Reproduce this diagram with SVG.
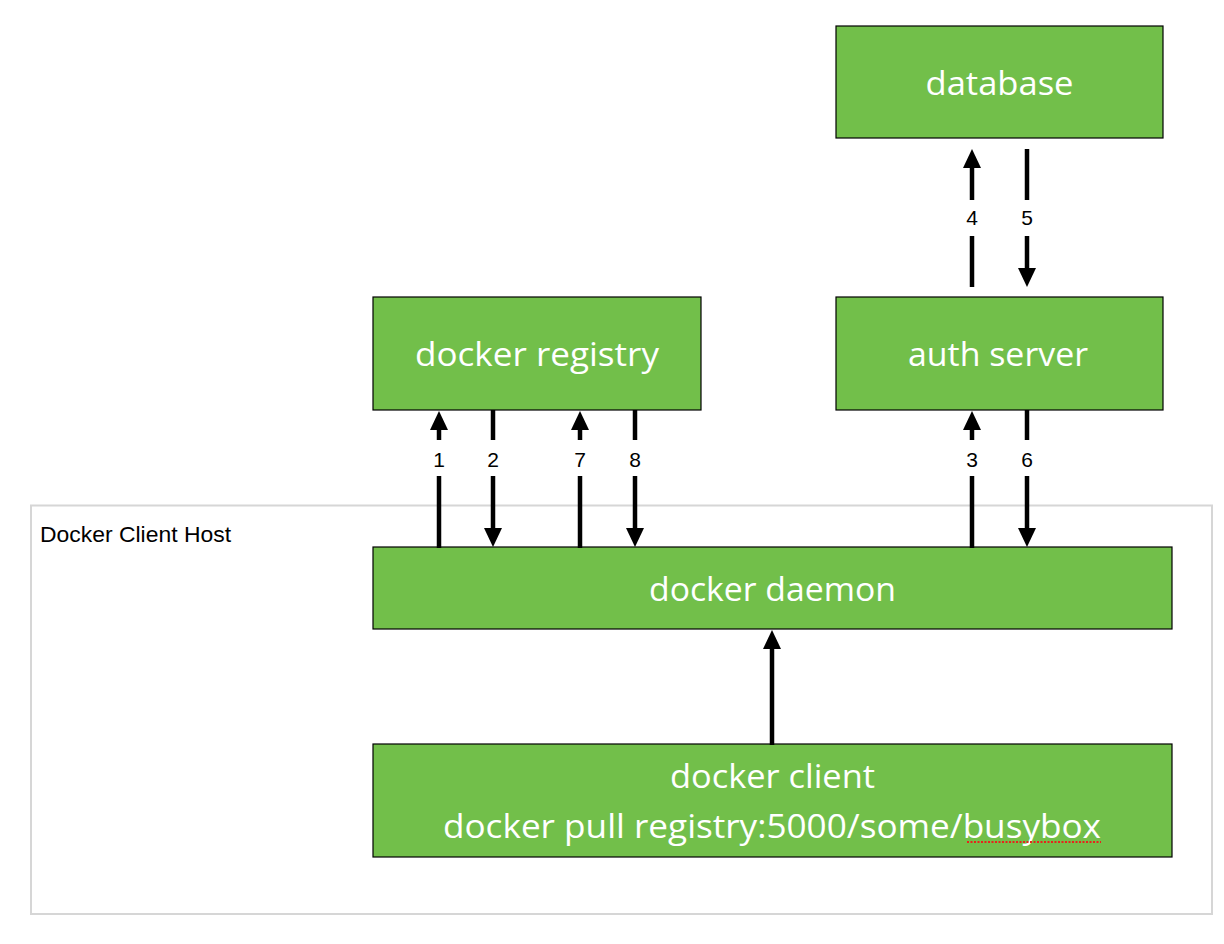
<svg xmlns="http://www.w3.org/2000/svg" width="1224" height="944" viewBox="0 0 1224 944">
<style>
.box{fill:#72bf4a;stroke:#000;stroke-width:1.2}
.lbl{font-family:"Open Sans","Liberation Sans",sans-serif;font-size:33px;fill:#fff;text-anchor:middle}
.num{font-family:"Liberation Sans",Arial,sans-serif;font-size:21px;fill:#000;text-anchor:middle}
.ln{stroke:#000;stroke-width:4.5;fill:none}
.hd{fill:#000}
</style>
<rect width="1224" height="944" fill="#fff"/>
<g id="host">
<rect x="31" y="505.5" width="1181" height="408.5" fill="none" stroke="#d6d6d6" stroke-width="2"/>
<text x="40" y="542" textLength="191" lengthAdjust="spacingAndGlyphs" style="font-family:'Liberation Sans',Arial,sans-serif;font-size:22px;fill:#000">Docker Client Host</text>
</g>
<g id="database"><rect class="box" x="836" y="26" width="327" height="112"/><text class="lbl" x="999.5" y="95" textLength="148" lengthAdjust="spacingAndGlyphs">database</text></g>
<g id="registry"><rect class="box" x="373" y="297" width="328" height="113"/><text class="lbl" x="537" y="366" textLength="244" lengthAdjust="spacingAndGlyphs">docker registry</text></g>
<g id="auth"><rect class="box" x="836" y="297" width="327" height="113"/><text class="lbl" x="998" y="366" textLength="180" lengthAdjust="spacingAndGlyphs">auth server</text></g>
<g id="daemon"><rect class="box" x="373" y="547" width="799" height="82"/><text class="lbl" x="772.5" y="601" textLength="247" lengthAdjust="spacingAndGlyphs">docker daemon</text></g>
<g id="client"><rect class="box" x="373" y="744" width="799" height="113"/><text class="lbl" x="772.5" y="788" textLength="205" lengthAdjust="spacingAndGlyphs">docker client</text><text class="lbl" x="772" y="838" textLength="658" lengthAdjust="spacingAndGlyphs">docker pull registry:5000/some/busybox</text>
<line x1="967" y1="842" x2="1101" y2="842" stroke="#e8231b" stroke-width="2" stroke-dasharray="2,1.5"/></g>
<g id="connectors">
<line class="ln" x1="439" y1="428" x2="439" y2="440"/><line class="ln" x1="439" y1="476" x2="439" y2="548"/><path class="hd" d="M439 411 L448 430 L430 430 Z"/>
<text class="num" x="439" y="467">1</text>
<line class="ln" x1="493" y1="410" x2="493" y2="440"/><line class="ln" x1="493" y1="476" x2="493" y2="530"/><path class="hd" d="M493 547 L502 528 L484 528 Z"/>
<text class="num" x="493" y="467">2</text>
<line class="ln" x1="580" y1="428" x2="580" y2="440"/><line class="ln" x1="580" y1="476" x2="580" y2="548"/><path class="hd" d="M580 411 L589 430 L571 430 Z"/>
<text class="num" x="580" y="467">7</text>
<line class="ln" x1="635" y1="410" x2="635" y2="440"/><line class="ln" x1="635" y1="476" x2="635" y2="530"/><path class="hd" d="M635 547 L644 528 L626 528 Z"/>
<text class="num" x="635" y="467">8</text>
<line class="ln" x1="972" y1="428" x2="972" y2="440"/><line class="ln" x1="972" y1="476" x2="972" y2="548"/><path class="hd" d="M972 411 L981 430 L963 430 Z"/>
<text class="num" x="972" y="467">3</text>
<line class="ln" x1="1027" y1="410" x2="1027" y2="440"/><line class="ln" x1="1027" y1="476" x2="1027" y2="530"/><path class="hd" d="M1027 547 L1036 528 L1018 528 Z"/>
<text class="num" x="1027" y="467">6</text>
<line class="ln" x1="972" y1="166" x2="972" y2="200"/><line class="ln" x1="972" y1="236" x2="972" y2="287"/><path class="hd" d="M972 149 L981 168 L963 168 Z"/>
<text class="num" x="972" y="225">4</text>
<line class="ln" x1="1027" y1="149" x2="1027" y2="200"/><line class="ln" x1="1027" y1="236" x2="1027" y2="270"/><path class="hd" d="M1027 287 L1036 268 L1018 268 Z"/>
<text class="num" x="1027" y="225">5</text>
<line class="ln" x1="772" y1="647" x2="772" y2="745"/><path class="hd" d="M772 630 L781 649 L763 649 Z"/>
</g>
</svg>
